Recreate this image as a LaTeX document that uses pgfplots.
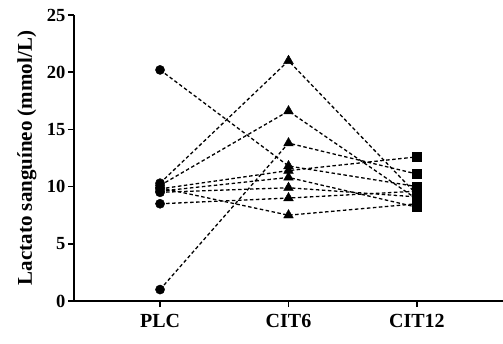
\documentclass[border=0pt]{standalone}
\usepackage{pgfplots}
\pgfplotsset{compat=1.18}
\usepackage{fontspec}
\setmainfont{Liberation Serif}

% Per-subject blood lactate (mmol/L) in the three conditions
\begin{document}
\begin{tikzpicture}
\begin{axis}[
  scale only axis,
  width=429pt, height=286pt,
  xmin=-0.67, xmax=2.67,
  ymin=0, ymax=25,
  axis x line=bottom, axis y line=left,
  axis line style={-, line width=1.8pt},
  tick align=outside,
  major tick length=6pt,
  every tick/.style={black, line width=1.6pt},
  xtick={0,1,2},
  xticklabels={PLC,CIT6,CIT12},
  ytick={0,5,10,15,20,25},
  /pgf/number format/assume math mode=true,
  yticklabel style={font=\fontsize{18.5}{20}\selectfont\bfseries, xshift=1pt},
  xticklabel style={font=\fontsize{20}{22}\selectfont\bfseries, yshift=-4pt},
  ylabel={Lactato sanguíneo (mmol/L)},
  ylabel style={font=\fontsize{21}{23}\selectfont\bfseries,
    at={(axis description cs:-0.11,0.5)}, anchor=center},
  clip=false,
]
\pgfplotsset{subj/.style={black, line width=1.3pt, dash pattern=on 3.5pt off 2.5pt, mark=none}}
\addplot[subj] coordinates {(0,20.2) (1,11.8) (2,10.0)};
\addplot[subj] coordinates {(0,1.0) (1,13.8) (2,11.1)};
\addplot[subj] coordinates {(0,10.3) (1,21.0) (2,9.3)};
\addplot[subj] coordinates {(0,10.1) (1,16.6) (2,8.9)};
\addplot[subj] coordinates {(0,8.5) (1,9.0) (2,9.6)};
\addplot[subj] coordinates {(0,9.9) (1,7.5) (2,8.5)};
\addplot[subj] coordinates {(0,9.8) (1,11.4) (2,12.6)};
\addplot[subj] coordinates {(0,9.6) (1,10.8) (2,8.2)};
\addplot[subj] coordinates {(0,9.5) (1,9.9) (2,9.1)};
% markers for each condition
\addplot[only marks, mark=*, mark size=4.6pt, black] coordinates {
  (0,20.2) (0,1.0) (0,10.3) (0,10.1) (0,8.5) (0,9.9) (0,9.8) (0,9.6) (0,9.5)};
\addplot[only marks, mark=triangle*, mark size=5.6pt, black] coordinates {
  (1,11.8) (1,13.8) (1,21.0) (1,16.6) (1,9.0) (1,7.5) (1,11.4) (1,10.8) (1,9.9)};
\addplot[only marks, mark=square*, mark size=4.5pt, black] coordinates {
  (2,10.0) (2,11.1) (2,9.3) (2,8.9) (2,9.6) (2,8.5) (2,12.6) (2,8.2) (2,9.1)};
\coordinate (o) at (rel axis cs:0,0);
\end{axis}
\pgfresetboundingbox
\path[use as bounding box] (o) ++(-74pt,-42pt) rectangle ++(503pt,343pt);
\end{tikzpicture}
\end{document}
